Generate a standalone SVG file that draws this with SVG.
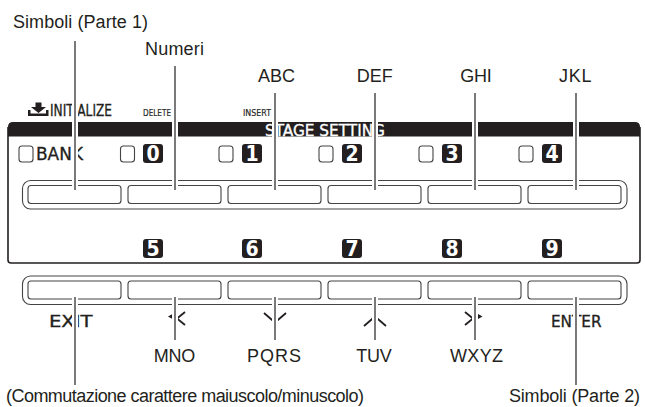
<svg xmlns="http://www.w3.org/2000/svg" width="645" height="407" viewBox="0 0 645 407">
<style>
.lbl{font-family:"Liberation Sans",Arial,sans-serif;font-size:18px;fill:#231f20}
.pt{font-family:"DejaVu Sans Condensed","Liberation Sans Narrow","Roboto Condensed",Roboto,sans-serif;fill:#231f20;stroke:#231f20;stroke-width:0.3}
.num{font-family:"DejaVu Sans Condensed","Liberation Sans Narrow",Roboto,sans-serif;font-weight:bold;font-size:21px;fill:#fff;text-anchor:middle}
.nbox{fill:#231f20}
.chk{fill:#fff;stroke:#444;stroke-width:1.1}
.btn{fill:#fff;stroke:#444;stroke-width:1.1}
.row{fill:none;stroke:#444;stroke-width:1.1}
.sym{fill:none;stroke:#231f20;stroke-width:1.8}
.halo{stroke:#fff;stroke-width:6;fill:none}
.lead{stroke:#231f20;stroke-width:1.2;fill:none}
</style>
<rect width="645" height="407" fill="#fff"/>
<g id="panel">
<path d="M8,127 V260 Q8,263 11,263 H637 Q640,263 640,260 V127" fill="none" stroke="#231f20" stroke-width="1.6"/>
<path d="M8,136.5 V127 Q8,122 13,122 H635 Q640,122 640,127 V136.5 Z" fill="#231f20"/>
<text class="pt" x="265" y="136" font-size="15.5" style="fill:#fff;stroke:#fff" textLength="120" lengthAdjust="spacingAndGlyphs">STAGE SETTING</text>
<path d="M35.5,102.5 H41.5 V107 H46 L38.5,113 L31,107 H35.5 Z" fill="#231f20"/>
<path d="M28,110 H30.5 V113.5 H46 V110 H48.5 V116 H28 Z" fill="#231f20"/>
<text class="pt" x="50" y="116" font-size="15" textLength="62" lengthAdjust="spacingAndGlyphs">INITIALIZE</text>
<text class="pt" x="143" y="116" font-size="8.5" style="stroke-width:0.15" textLength="28" lengthAdjust="spacingAndGlyphs">DELETE</text>
<text class="pt" x="243" y="116" font-size="8.5" style="stroke-width:0.15" textLength="28" lengthAdjust="spacingAndGlyphs">INSERT</text>
</g>
<g id="top-keys">
<rect class="chk" x="19" y="146" width="14" height="16" rx="3"/>
<text class="pt" x="36" y="160" font-size="17.5" textLength="47" lengthAdjust="spacingAndGlyphs">BANK</text>
<rect class="chk" x="120.5" y="146" width="14" height="16" rx="3"/>
<rect class="nbox" x="143" y="144" width="20" height="19" rx="3"/>
<text class="num" x="153" y="161">0</text>
<rect class="chk" x="219" y="146" width="14" height="16" rx="3"/>
<rect class="nbox" x="242" y="144" width="20" height="19" rx="3"/>
<text class="num" x="252" y="161">1</text>
<rect class="chk" x="319" y="146" width="14" height="16" rx="3"/>
<rect class="nbox" x="342" y="144" width="20" height="19" rx="3"/>
<text class="num" x="352" y="161">2</text>
<rect class="chk" x="419" y="146" width="14" height="16" rx="3"/>
<rect class="nbox" x="442" y="144" width="20" height="19" rx="3"/>
<text class="num" x="452" y="161">3</text>
<rect class="chk" x="519" y="146" width="14" height="16" rx="3"/>
<rect class="nbox" x="542" y="144" width="20" height="19" rx="3"/>
<text class="num" x="552" y="161">4</text>
</g>
<g id="upper-buttons">
<rect class="row" x="22.5" y="180.5" width="604.5" height="28.5" rx="8"/>
<rect class="btn" x="28" y="185.5" width="93" height="18" rx="3"/>
<rect class="btn" x="128" y="185.5" width="93" height="18" rx="3"/>
<rect class="btn" x="228" y="185.5" width="93" height="18" rx="3"/>
<rect class="btn" x="328" y="185.5" width="93" height="18" rx="3"/>
<rect class="btn" x="428" y="185.5" width="93" height="18" rx="3"/>
<rect class="btn" x="528" y="185.5" width="93" height="18" rx="3"/>
</g>
<g id="lower-numbers">
<rect class="nbox" x="143" y="239" width="20" height="19" rx="3"/>
<text class="num" x="153" y="256">5</text>
<rect class="nbox" x="242" y="239" width="20" height="19" rx="3"/>
<text class="num" x="252" y="256">6</text>
<rect class="nbox" x="342" y="239" width="20" height="19" rx="3"/>
<text class="num" x="352" y="256">7</text>
<rect class="nbox" x="442" y="239" width="20" height="19" rx="3"/>
<text class="num" x="452" y="256">8</text>
<rect class="nbox" x="542" y="239" width="20" height="19" rx="3"/>
<text class="num" x="552" y="256">9</text>
</g>
<g id="lower-buttons">
<rect class="row" x="22.5" y="276" width="604.5" height="28.5" rx="8"/>
<rect class="btn" x="28" y="281" width="93" height="18" rx="3"/>
<rect class="btn" x="128" y="281" width="93" height="18" rx="3"/>
<rect class="btn" x="228" y="281" width="93" height="18" rx="3"/>
<rect class="btn" x="328" y="281" width="93" height="18" rx="3"/>
<rect class="btn" x="428" y="281" width="93" height="18" rx="3"/>
<rect class="btn" x="528" y="281" width="93" height="18" rx="3"/>
<text class="pt" x="49" y="327" font-size="16" textLength="43.5" lengthAdjust="spacingAndGlyphs">EXIT</text>
<text class="pt" x="551" y="327" font-size="16" textLength="50.5" lengthAdjust="spacingAndGlyphs">ENTER</text>
<polygon points="168,316.5 172.5,314 172.5,319" fill="#231f20"/>
<polyline class="sym" points="185,312 177,318.5 185,325"/>
<polyline class="sym" points="264,313 275,322.5 286,313"/>
<polyline class="sym" points="364,326 375,316.5 386,326"/>
<polyline class="sym" points="465,312 473,318.5 465,325"/>
<polygon points="478,314 482.5,316.5 478,319" fill="#231f20"/>
</g>
<g id="connectors">
<g class="halo">
<line x1="75" y1="41" x2="75" y2="190"/>
<line x1="175" y1="66" x2="175" y2="190"/>
<line x1="275" y1="93" x2="275" y2="190"/>
<line x1="375" y1="93" x2="375" y2="190"/>
<line x1="475" y1="93" x2="475" y2="190"/>
<line x1="576" y1="93" x2="576" y2="190"/>
<line x1="75" y1="297" x2="75" y2="385"/>
<line x1="175" y1="297" x2="175" y2="340"/>
<line x1="275" y1="297" x2="275" y2="340"/>
<line x1="375" y1="297" x2="375" y2="340"/>
<line x1="475" y1="297" x2="475" y2="340"/>
<line x1="576" y1="297" x2="576" y2="385"/>
</g>
<g class="lead">
<line x1="75" y1="41" x2="75" y2="190"/>
<line x1="175" y1="66" x2="175" y2="190"/>
<line x1="275" y1="93" x2="275" y2="190"/>
<line x1="375" y1="93" x2="375" y2="190"/>
<line x1="475" y1="93" x2="475" y2="190"/>
<line x1="576" y1="93" x2="576" y2="190"/>
<line x1="75" y1="297" x2="75" y2="385"/>
<line x1="175" y1="297" x2="175" y2="340"/>
<line x1="275" y1="297" x2="275" y2="340"/>
<line x1="375" y1="297" x2="375" y2="340"/>
<line x1="475" y1="297" x2="475" y2="340"/>
<line x1="576" y1="297" x2="576" y2="385"/>
</g>
</g>
<g id="label-simboli1"><text class="lbl" x="13" y="28" textLength="135">Simboli (Parte 1)</text></g>
<g id="label-numeri"><text class="lbl" x="174.5" y="55" text-anchor="middle" textLength="59">Numeri</text></g>
<g id="label-abc"><text class="lbl" x="276.5" y="82" text-anchor="middle" textLength="37">ABC</text></g>
<g id="label-def"><text class="lbl" x="374.7" y="82" text-anchor="middle" textLength="36">DEF</text></g>
<g id="label-ghi"><text class="lbl" x="476" y="82" text-anchor="middle" textLength="31.5">GHI</text></g>
<g id="label-jkl"><text class="lbl" x="575.3" y="82" text-anchor="middle" textLength="32.5">JKL</text></g>
<g id="label-mno"><text class="lbl" x="174.5" y="362" text-anchor="middle" textLength="41.5">MNO</text></g>
<g id="label-pqrs"><text class="lbl" x="274" y="362" text-anchor="middle" textLength="54">PQRS</text></g>
<g id="label-tuv"><text class="lbl" x="374" y="362" text-anchor="middle" textLength="35.5">TUV</text></g>
<g id="label-wxyz"><text class="lbl" x="476.5" y="362" text-anchor="middle" textLength="53">WXYZ</text></g>
<g id="label-case"><text class="lbl" x="6" y="402" textLength="358">(Commutazione carattere maiuscolo/minuscolo)</text></g>
<g id="label-simboli2"><text class="lbl" x="509" y="402" textLength="131">Simboli (Parte 2)</text></g>
</svg>
